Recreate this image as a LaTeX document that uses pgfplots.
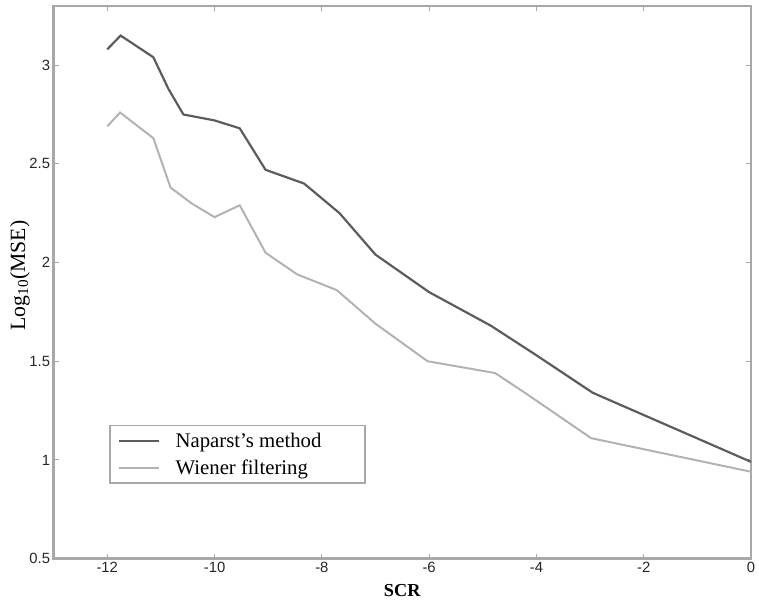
\documentclass[border=0pt]{standalone}
\usepackage{pgfplots}
\pgfplotsset{compat=1.18}
\usepackage{fontspec}
\setmainfont{Liberation Serif}
\setsansfont{Liberation Sans}
\definecolor{darkline}{HTML}{5C5C5C}
\definecolor{lightline}{HTML}{B2B2B2}
\definecolor{framegray}{HTML}{A8A8A8}

\begin{document}
\begin{tikzpicture}
\useasboundingbox (-54bp,-43bp) rectangle (711bp,563bp);
\begin{axis}[
  scale only axis,
  width=703bp, height=557bp,
  xmin=-13, xmax=0, ymin=0.5, ymax=3.3,
  xtick={-12,-10,-8,-6,-4,-2,0},
  ytick={0.5,1,1.5,2,2.5,3},
  axis line style={framegray, line width=2.2bp},
  tick style={framegray, line width=1.2bp},
  major tick length=5bp,
  tick align=inside,
  xtick pos=both, ytick pos=both,
  xticklabel pos=lower, yticklabel pos=left,
  ticklabel style={font=\fontsize{15}{17}\sffamily\selectfont, text=black!85},
  /pgf/number format/assume math mode=true,
  xlabel={\textbf{SCR}},
  xlabel style={font=\fontsize{18.5}{20}\selectfont, at={(axis description cs:0.5,0)}, anchor=center, yshift=-32bp},
  ylabel={Log\textsubscript{10}(MSE)},
  ylabel style={font=\fontsize{22}{24}\selectfont, at={(axis description cs:-0.0484,0.512)}, anchor=center},
  legend image code/.code={\draw[#1] (0bp,0bp) -- (40bp,0bp);},
  legend cell align=left,
  legend style={
    at={(rel axis cs:0.0797,0.2424)}, anchor=north west,
    draw=framegray, line width=1.6bp,
    font=\fontsize{21}{24}\selectfont,
    inner xsep=8bp, inner ysep=2bp,
    nodes={inner xsep=4bp, inner ysep=5.5bp},
    column sep=12bp, row sep=0bp,
  },
]
\addplot[darkline, line width=2.2bp] coordinates {
  (-12.00, 3.08)
  (-11.75, 3.15)
  (-11.14, 3.04)
  (-10.86, 2.88)
  (-10.58, 2.75)
  (-10.00, 2.72)
  (-9.53, 2.68)
  (-9.05, 2.47)
  (-8.33, 2.40)
  (-7.67, 2.25)
  (-7.00, 2.04)
  (-6.00, 1.85)
  (-4.85, 1.68)
  (-4.00, 1.53)
  (-2.95, 1.34)
  (0.00, 0.99)
};
\addlegendentry{\makebox[179bp][l]{Naparst's method}}
\addplot[lightline, line width=2bp] coordinates {
  (-12.00, 2.69)
  (-11.76, 2.76)
  (-11.14, 2.63)
  (-10.82, 2.38)
  (-10.43, 2.30)
  (-10.00, 2.23)
  (-9.53, 2.29)
  (-9.05, 2.05)
  (-8.46, 1.94)
  (-7.72, 1.86)
  (-7.00, 1.69)
  (-6.03, 1.50)
  (-4.77, 1.44)
  (-4.16, 1.33)
  (-2.98, 1.11)
  (0.00, 0.94)
};
\addlegendentry{\makebox[179bp][l]{Wiener filtering}}
\end{axis}
\end{tikzpicture}
\end{document}
